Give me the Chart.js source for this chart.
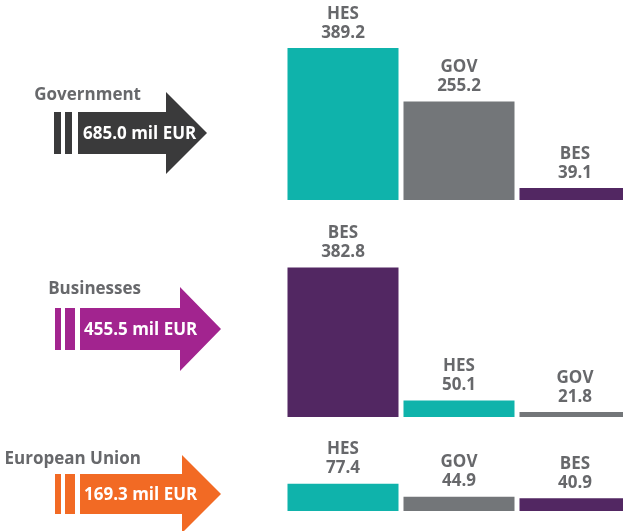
<!DOCTYPE html>
<html>
<head>
<meta charset="utf-8">
<script src="https://cdn.jsdelivr.net/npm/chart.js@4.4.0/dist/chart.umd.min.js"></script>
<style>
html, body { margin: 0; padding: 0; background: #fff; overflow: hidden; width: 623px; height: 531px; }
canvas { position: absolute; left: 0; }
</style>
</head>
<body>
<canvas id="gov" width="633" height="210" style="top:0px"></canvas>
<canvas id="bus" width="633" height="220" style="top:210px"></canvas>
<canvas id="eu" width="633" height="110" style="top:430px"></canvas>
<script>
// funding sources and their totals (mil EUR)
let sources = ["Government", "Businesses", "European Union"]
let totals = [685.0, 455.5, 169.3]

// where the money goes, per source
let govSectors = ["HES", "GOV", "BES"]
let govValues = [389.2, 255.2, 39.1]
let busSectors = ["BES", "HES", "GOV"]
let busValues = [382.8, 50.1, 21.8]
let euSectors = ["HES", "GOV", "BES"]
let euValues = [77.4, 44.9, 40.9]

let sectorColors = { HES: "#0fb3ab", GOV: "#737679", BES: "#522762" }
let textGray = "#67686b"
let font = "'Open Sans', 'Noto Sans', sans-serif"
let pxPerUnit = 0.4
let yMin = 9

let flowArrow = {
    id: "flowArrow",
    beforeDraw(chart, args, o) {
        let ctx = chart.ctx
        let cy = o.cy
        ctx.save()
        ctx.fillStyle = o.color
        o.stripes.forEach(function (s) {
            ctx.fillRect(s[0], cy - o.bodyHalf, s[1] - s[0], o.bodyHalf * 2)
        })
        ctx.beginPath()
        ctx.moveTo(o.bodyX, cy - o.bodyHalf)
        ctx.lineTo(o.headX, cy - o.bodyHalf)
        ctx.lineTo(o.headX, cy - o.headHalf)
        ctx.lineTo(o.tipX, cy)
        ctx.lineTo(o.headX, cy + o.headHalf)
        ctx.lineTo(o.headX, cy + o.bodyHalf)
        ctx.lineTo(o.bodyX, cy + o.bodyHalf)
        ctx.closePath()
        ctx.fill()

        ctx.font = "bold 17px " + font
        ctx.textBaseline = "middle"
        ctx.fillStyle = "#ffffff"
        ctx.textAlign = "left"
        ctx.fillText(o.total.toFixed(1) + " mil EUR", o.textX, cy + 1)

        ctx.fillStyle = textGray
        ctx.textAlign = "right"
        ctx.fillText(o.title, 141, o.titleY)
        ctx.restore()
    },
    afterDatasetsDraw(chart) {
        let ctx = chart.ctx
        let meta = chart.getDatasetMeta(0)
        let data = chart.data.datasets[0].data
        ctx.save()
        ctx.font = "bold 17px " + font
        ctx.fillStyle = textGray
        ctx.textAlign = "center"
        ctx.textBaseline = "middle"
        meta.data.forEach(function (bar, i) {
            ctx.fillText(chart.data.labels[i], bar.x, bar.y - 34)
            ctx.fillText(data[i].toFixed(1), bar.x, bar.y - 15)
        })
        ctx.restore()
    }
}

function makeChart(id, sectors, values, padBottom, arrow) {
    let canvas = document.getElementById(id)
    let areaHeight = canvas.height - padBottom
    return new Chart(canvas.getContext("2d"), {
        type: "bar",
        data: {
            labels: sectors,
            datasets: [{
                data: values,
                backgroundColor: sectors.map(function (s) { return sectorColors[s] }),
                barPercentage: 0.957,
                categoryPercentage: 1
            }]
        },
        options: {
            responsive: false,
            animation: false,
            layout: { padding: { left: 285, right: 0, top: 0, bottom: padBottom } },
            scales: {
                x: { display: false },
                y: { display: false, min: yMin, max: yMin + areaHeight / pxPerUnit }
            },
            plugins: {
                legend: { display: false },
                tooltip: { enabled: false },
                flowArrow: arrow
            }
        },
        plugins: [flowArrow]
    })
}

makeChart("gov", govSectors, govValues, 10, {
    title: sources[0], total: totals[0], color: "#3a3a3b",
    cy: 133, titleY: 95, bodyHalf: 21, headHalf: 41,
    stripes: [[54, 61], [65, 72]], bodyX: 78, headX: 166, tipX: 207, textX: 83
})

makeChart("bus", busSectors, busValues, 13, {
    title: sources[1], total: totals[1], color: "#a2248f",
    cy: 119, titleY: 79, bodyHalf: 21, headHalf: 42,
    stripes: [[55, 61], [65, 75]], bodyX: 80, headX: 180, tipX: 221, textX: 84
})

makeChart("eu", euSectors, euValues, 29, {
    title: sources[2], total: totals[2], color: "#f26a24",
    cy: 64, titleY: 29, bodyHalf: 20, headHalf: 39,
    stripes: [[55, 61], [65, 75]], bodyX: 80, headX: 182, tipX: 221, textX: 84
})
</script>
</body>
</html>
